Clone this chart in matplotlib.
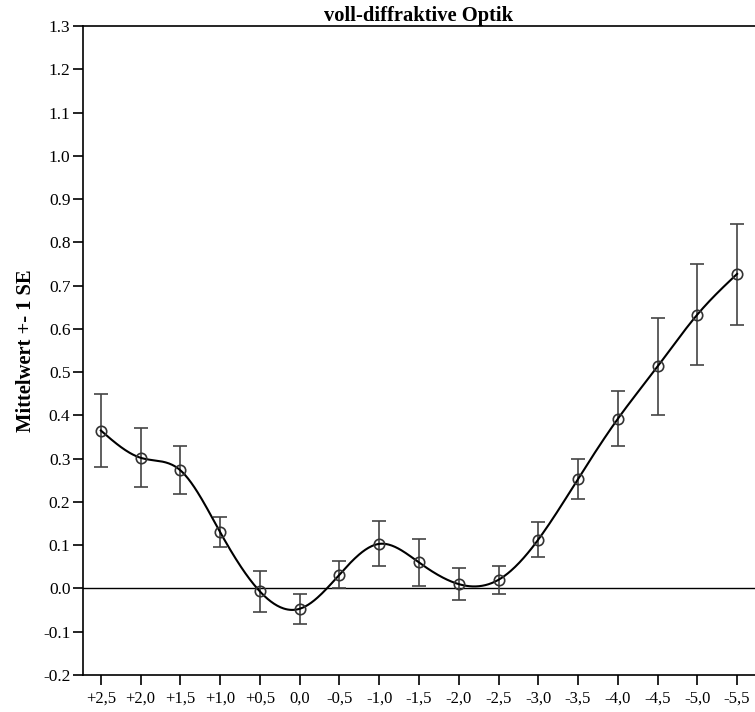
import numpy as np
import matplotlib
matplotlib.use("Agg")
import matplotlib.pyplot as plt

categories = ["+2,5", "+2,0", "+1,5", "+1,0", "+0,5", "0,0", "-0,5", "-1,0", "-1,5",
              "-2,0", "-2,5", "-3,0", "-3,5", "-4,0", "-4,5", "-5,0", "-5,5"]
means = [0.365, 0.302, 0.273, 0.130, -0.007, -0.047, 0.032, 0.103, 0.060,
         0.010, 0.020, 0.113, 0.253, 0.392, 0.513, 0.633, 0.727]
upper = [0.450, 0.370, 0.330, 0.165, 0.040, -0.012, 0.063, 0.155, 0.115,
         0.047, 0.053, 0.153, 0.300, 0.457, 0.625, 0.750, 0.843]
lower = [0.280, 0.235, 0.218, 0.095, -0.055, -0.083, 0.002, 0.052, 0.005,
         -0.027, -0.013, 0.073, 0.207, 0.330, 0.400, 0.517, 0.610]


def natural_spline(x, y, xs):
    x = np.asarray(x, float); y = np.asarray(y, float)
    n = len(x)
    h = np.diff(x)
    A = np.zeros((n, n)); b = np.zeros(n)
    A[0, 0] = 1; A[-1, -1] = 1
    for i in range(1, n - 1):
        A[i, i - 1] = h[i - 1]
        A[i, i] = 2 * (h[i - 1] + h[i])
        A[i, i + 1] = h[i]
        b[i] = 3 * ((y[i + 1] - y[i]) / h[i] - (y[i] - y[i - 1]) / h[i - 1])
    c = np.linalg.solve(A, b)
    out = np.empty_like(xs)
    for k, xv in enumerate(xs):
        i = min(max(np.searchsorted(x, xv) - 1, 0), n - 2)
        dx = xv - x[i]
        bb = (y[i + 1] - y[i]) / h[i] - h[i] * (2 * c[i] + c[i + 1]) / 3
        d = (c[i + 1] - c[i]) / (3 * h[i])
        out[k] = y[i] + bb * dx + c[i] * dx ** 2 + d * dx ** 3
    return out


plt.rcParams['font.family'] = ['Liberation Serif', 'DejaVu Serif']

fig = plt.figure(figsize=(7.55, 7.12), dpi=100)
ax = fig.add_axes([0.1099, 0.052, 0.8901, 0.9115])

x = np.arange(len(categories))
m = np.array(means)
yerr = [m - np.array(lower), np.array(upper) - m]

ax.axhline(0, color='black', lw=1.0, zorder=1)
xs = np.linspace(x[0], x[-1], 600)
ax.plot(xs, natural_spline(x, m, xs), color='black', lw=1.5, zorder=3)
ax.errorbar(x, m, yerr=yerr, fmt='none', ecolor='#444444', elinewidth=1.2,
            capsize=5, capthick=1.2, zorder=2)
ax.plot(x, m, 'o', ms=7.5, mfc='none', mec='#333333', mew=1.2, zorder=4)

ax.set_xlim(-0.45, len(categories) - 0.55)
ax.set_ylim(-0.2, 1.3)
yt = np.round(np.arange(-0.2, 1.31, 0.1), 1)
ax.set_yticks(yt)
ax.set_yticklabels([f"{v:.1f}" for v in yt])
ax.set_xticks(x)
ax.set_xticklabels(categories)
ax.tick_params(direction='out', length=7, width=1.2, colors='black')
ax.tick_params(axis='y', labelsize=12.5, pad=2)
ax.tick_params(axis='x', labelsize=12, pad=4)
for s in ['left', 'top', 'bottom']:
    ax.spines[s].set_linewidth(1.2)
ax.spines['right'].set_visible(False)
ax.set_ylabel("Mittelwert +- 1 SE", fontsize=14.8, fontweight='bold', labelpad=5)
ax.set_title("voll-diffraktive Optik", fontsize=14.8, fontweight='bold', pad=3)

fig.savefig("out.png", dpi=100)
